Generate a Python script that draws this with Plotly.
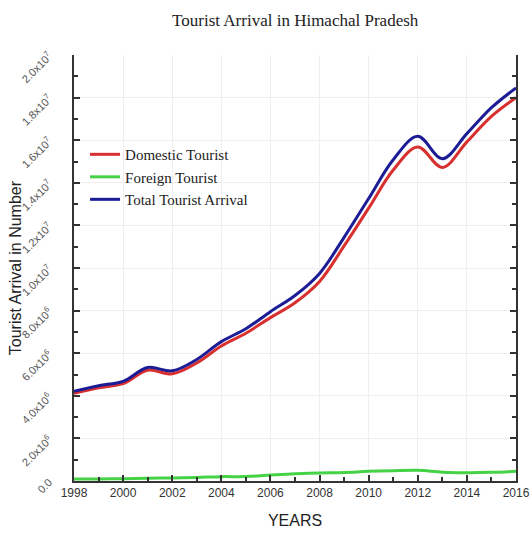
import plotly.graph_objects as go

years = [1998, 1999, 2000, 2001, 2002, 2003, 2004, 2005, 2006, 2007,
         2008, 2009, 2010, 2011, 2012, 2013, 2014, 2015, 2016]
domestic = [4120000, 4380000, 4570000, 5200000, 5030000, 5540000, 6340000, 6940000, 7670000, 8370000,
            9370000, 11040000, 12810000, 14600000, 15680000, 14720000, 15920000, 17120000, 18000000]
foreign = [94000, 96000, 108000, 130000, 144000, 167000, 204000, 208000, 281000, 339000,
           377000, 401000, 453000, 484000, 500000, 414000, 390000, 406000, 453000]
total = [4214000, 4476000, 4678000, 5330000, 5174000, 5707000, 6544000, 7148000, 7951000, 8709000,
         9747000, 11441000, 13263000, 15084000, 16180000, 15134000, 16310000, 17526000, 18453000]

ytick_vals = [0, 2e6, 4e6, 6e6, 8e6, 1e7, 1.2e7, 1.4e7, 1.6e7, 1.8e7, 2e7]
ytick_text = ["0.0", "2.0x10<sup>6</sup>", "4.0x10<sup>6</sup>", "6.0x10<sup>6</sup>", "8.0x10<sup>6</sup>",
              "1.0x10<sup>7</sup>", "1.2x10<sup>7</sup>", "1.4x10<sup>7</sup>", "1.6x10<sup>7</sup>",
              "1.8x10<sup>7</sup>", "2.0x10<sup>7</sup>"]
xtick_vals = [1998, 2000, 2002, 2004, 2006, 2008, 2010, 2012, 2014, 2016]

fig = go.Figure()
fig.add_trace(go.Scatter(x=years, y=domestic, mode="lines", name="Domestic Tourist",
                         line=dict(color="#d8302e", width=3, shape="spline", smoothing=1.0)))
fig.add_trace(go.Scatter(x=years, y=foreign, mode="lines", name="Foreign Tourist",
                         line=dict(color="#46d246", width=3, shape="spline", smoothing=1.0)))
fig.add_trace(go.Scatter(x=years, y=total, mode="lines", name="Total Tourist Arrival",
                         line=dict(color="#1c1c96", width=3, shape="spline", smoothing=1.0)))

fig.update_layout(
    width=530, height=534,
    margin=dict(l=74, r=14, t=55, b=53),
    paper_bgcolor="white", plot_bgcolor="white",
    title=dict(text="Tourist Arrival in Himachal Pradesh", x=0.557, xanchor="center", y=0.9625,
               yanchor="middle", font=dict(family="Liberation Serif", size=17, color="#222")),
    legend=dict(x=0.025, y=0.805, xanchor="left", yanchor="top", bgcolor="rgba(0,0,0,0)",
                font=dict(family="Liberation Serif", size=15, color="#222"),
                tracegroupgap=0, itemwidth=30),
    showlegend=True,
    annotations=[dict(text="Tourist Arrival in Number", xref="paper", yref="paper",
                      x=-0.133, y=0.5, xanchor="center", yanchor="middle", textangle=-90,
                      showarrow=False, font=dict(family="Liberation Sans", size=16, color="#222"))],
)
fig.update_xaxes(
    automargin=False,
    range=[1998, 2016], tickvals=xtick_vals, ticks="inside", ticklen=6, tickwidth=1.5,
    tickcolor="#333", showline=True, linecolor="#333", linewidth=1.5, mirror=False,
    showgrid=True, gridcolor="#efefef", gridwidth=1, zeroline=False,
    minor=dict(dtick=1, ticks="inside", ticklen=4, tickcolor="#333", showgrid=False),
    tickfont=dict(family="Liberation Sans", size=12, color="#333"),
    title=dict(text="YEARS", font=dict(family="Liberation Sans", size=16, color="#222"), standoff=16),
)
fig.update_yaxes(
    automargin=False,
    range=[0, 2e7], tickvals=ytick_vals, ticktext=ytick_text, tickangle=-45,
    ticks="inside", ticklen=6, tickwidth=1.5, tickcolor="#333",
    showline=True, linecolor="#333", linewidth=1.5, mirror="ticks",
    showgrid=True, gridcolor="#efefef", gridwidth=1, zeroline=False,
    minor=dict(dtick=1e6, tick0=0, ticks="inside", ticklen=4, tickcolor="#333", showgrid=False),
    tickfont=dict(family="Liberation Sans", size=11, color="#555"),
    ticklabelstandoff=21, ticklabelshift=0,
)

fig.write_html("out.html", config={"displayModeBar": False},
               post_script="document.body.style.margin='0';document.body.style.overflow='hidden';")
